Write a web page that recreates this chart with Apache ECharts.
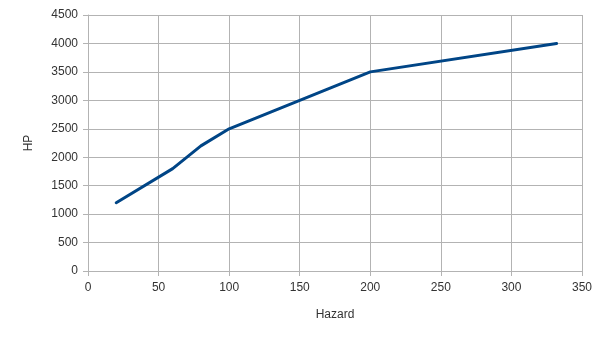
<!DOCTYPE html>
<html><head><meta charset="utf-8">
<script src="https://cdn.jsdelivr.net/npm/echarts@6/dist/echarts.min.js"></script>
<style>html,body{margin:0;padding:0;background:#fff}#c{width:606px;height:341px}</style>
</head><body><div id="c"></div>
<script>
const hazard = [20, 60, 80, 100, 200, 332];
const hp = [1200, 1800, 2200, 2500, 3500, 4000];
const xTitle = 'Hazard';
const yTitle = 'HP';

const chart = echarts.init(document.getElementById('c'), null, {renderer: 'canvas'});
const axisCommon = {
  axisLine: {show: true, lineStyle: {color: '#b3b3b3', width: 1}},
  axisTick: {show: true, inside: false, length: 5, lineStyle: {color: '#b3b3b3'}},
  splitLine: {show: true, lineStyle: {color: '#b3b3b3', width: 1}},
  axisLabel: {color: '#333', fontFamily: 'Liberation Sans', fontSize: 12, formatter: v => String(v)},
  nameTextStyle: {color: '#333', fontFamily: 'Liberation Sans', fontSize: 12}
};
chart.setOption({
  animation: false,
  grid: {left: 88, right: 24, top: 15, bottom: 70, containLabel: false},
  xAxis: Object.assign({}, axisCommon, {
    type: 'value', min: 0, max: 350, interval: 50,
    name: xTitle, nameLocation: 'middle', nameGap: 38,
    axisLabel: Object.assign({}, axisCommon.axisLabel, {margin: 11})
  }),
  yAxis: Object.assign({}, axisCommon, {
    type: 'value', min: 0, max: 4500, interval: 500,
    name: yTitle, nameLocation: 'middle', nameGap: 53,
    axisLabel: Object.assign({}, axisCommon.axisLabel, {margin: 10})
  }),
  series: [{
    type: 'line',
    data: hazard.map((x, i) => [x, hp[i]]),
    showSymbol: false,
    symbol: 'none',
    lineStyle: {color: '#004586', width: 3, cap: 'round', join: 'round'}
  }]
});
</script></body></html>
